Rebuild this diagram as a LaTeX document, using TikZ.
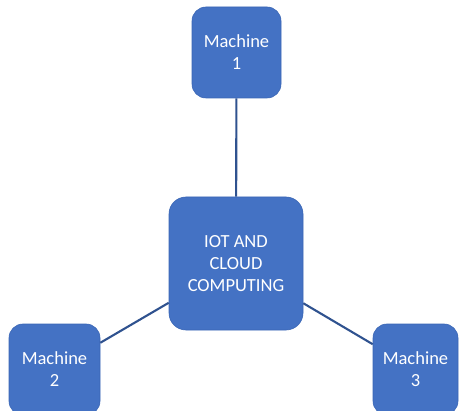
\documentclass[tikz,border=0pt]{standalone}
\usepackage{fontspec}
\setmainfont{Carlito}
\definecolor{boxfill}{HTML}{4472C4}
\definecolor{boxline}{HTML}{3A66B5}
\definecolor{linkcol}{HTML}{2F528F}
\tikzset{
  box/.style={draw=boxline, line width=0.6pt, fill=boxfill, rounded corners=14pt,
    text=white, align=center, inner sep=0pt,
    font=\fontsize{18.5pt}{22pt}\selectfont},
  link/.style={draw=linkcol, line width=2.1pt}
}
\begin{document}
\begin{tikzpicture}[x=1pt,y=-1pt]
\useasboundingbox (0,0) rectangle (460,411);
\clip (0,0) rectangle (460,411);
\node[box, minimum width=89pt, minimum height=91pt] (m1) at (236.5,52.5) {Machine\\1};
\node[box, minimum width=134pt, minimum height=133pt, rounded corners=17pt] (c) at (236,263.5) {IOT AND\\CLOUD\\COMPUTING};
\node[box, minimum width=91pt, minimum height=91pt] (m2) at (54.5,369.5) {Machine\\2};
\node[box, minimum width=85pt, minimum height=91pt] (m3) at (415.5,369.5) {Machine\\3};
\draw[link] (m1) -- (c);
\draw[link] (m2) -- (c);
\draw[link] (m3) -- (c);
\end{tikzpicture}
\end{document}
